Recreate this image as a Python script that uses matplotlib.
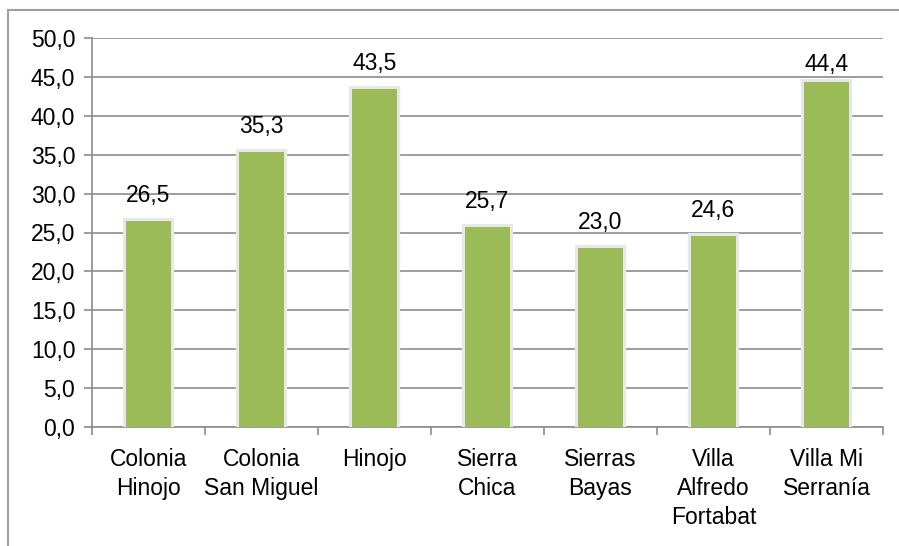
import matplotlib
matplotlib.use("Agg")
import matplotlib.pyplot as plt
import matplotlib.patheffects as pe
from matplotlib.lines import Line2D
import numpy as np

categories = [
    "Colonia\nHinojo",
    "Colonia\nSan Miguel",
    "Hinojo",
    "Sierra\nChica",
    "Sierras\nBayas",
    "Villa\nAlfredo\nFortabat",
    "Villa Mi\nSerranía",
]
values = [26.5, 35.3, 43.5, 25.7, 23.0, 24.6, 44.4]
yticks = np.arange(0, 50.1, 5)

BAR = "#9bbb59"
GRID = "#8c8c8c"
FS = 16.5
YMAX = 50

plt.rcParams["font.family"] = ["Liberation Sans", "DejaVu Sans"]

fig = plt.figure(figsize=(8.99, 5.46), dpi=100)
ax = fig.add_axes([92 / 899, 1 - 427 / 546, (883 - 92) / 899, (427 - 38) / 546])

x = np.arange(len(categories))
bars = ax.bar(x, values, width=0.4, color=BAR, zorder=3)
for b in bars:
    b.set_path_effects([pe.withStroke(linewidth=4.5, foreground="#e8e8e8"), pe.Normal()])

# labels sit above the bar; Excel pulls them down when they'd hit the top of the plot
for xi, v in zip(x, values):
    off = 10 if v < 44 else 4
    ax.annotate(f"{v:.1f}".replace(".", ","), (xi, v), xytext=(0, off),
                textcoords="offset points", ha="center", va="bottom", fontsize=FS)

ax.set_xlim(-0.5, len(categories) - 0.5)
ax.set_ylim(0, YMAX)
ax.set_yticks(yticks)
ax.set_yticklabels([f"{t:.1f}".replace(".", ",") for t in yticks], fontsize=FS)
ax.yaxis.grid(True, color=GRID, linewidth=1.2, zorder=0)
ax.set_axisbelow(True)

ax.set_xticks(x)
ax.set_xticklabels(categories, fontsize=FS, linespacing=1.33)
ax.set_xticks(np.arange(-0.5, len(categories)), minor=True)
ax.tick_params(axis="x", which="major", length=0, pad=15)
ax.tick_params(axis="x", which="minor", length=6, color=GRID, width=1.2, direction="out")
ax.tick_params(axis="y", length=6, color=GRID, width=1.2, direction="out", pad=6)

for side in ("top", "right"):
    ax.spines[side].set_visible(False)
for side in ("left", "bottom"):
    ax.spines[side].set_color(GRID)
    ax.spines[side].set_linewidth(1.2)

# chart area border (top and left visible)
fig.add_artist(Line2D([8 / 899, 1], [1 - 10 / 546] * 2, color="#a0a0a0", linewidth=1.5,
                      transform=fig.transFigure))
fig.add_artist(Line2D([8 / 899] * 2, [0, 1 - 10 / 546], color="#a0a0a0", linewidth=1.5,
                      transform=fig.transFigure))

fig.savefig("out.png", dpi=100)
